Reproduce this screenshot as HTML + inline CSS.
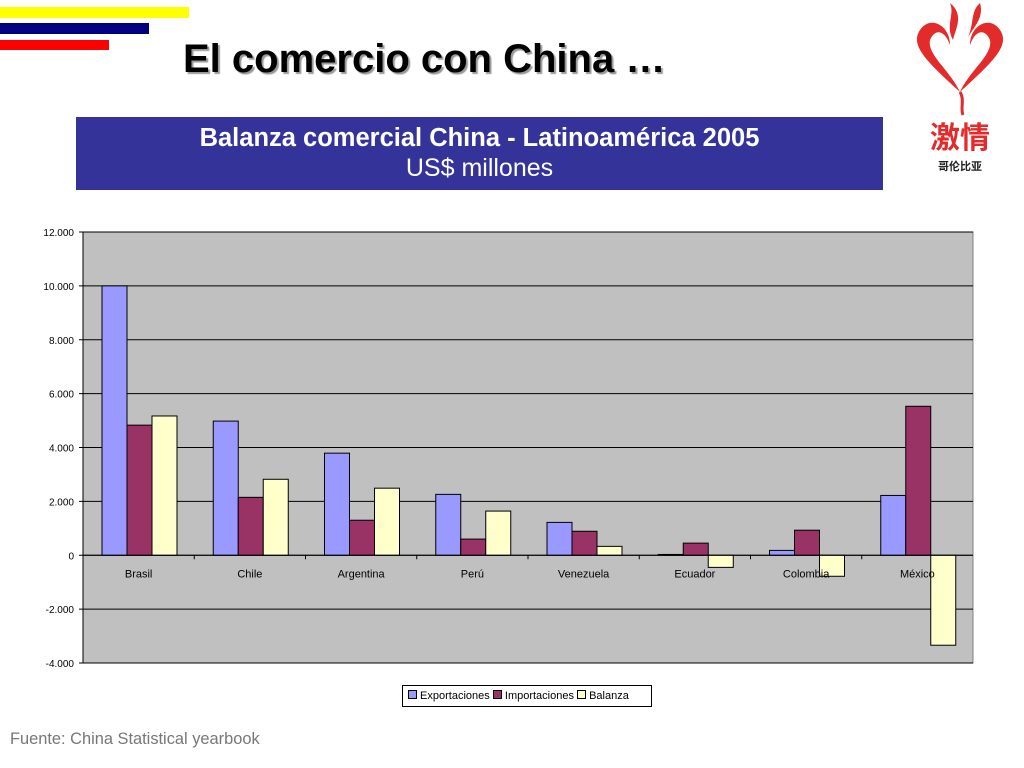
<!DOCTYPE html>
<html><head><meta charset="utf-8"><style>
body{margin:0;width:1024px;height:768px;background:#fff;position:relative;overflow:hidden;font-family:"Liberation Sans",sans-serif}
.s{position:absolute;left:0}
</style></head><body>
<div class="s" style="top:7px;width:189px;height:11px;background:#ffff00"></div>
<div class="s" style="top:23px;width:149px;height:11px;background:#000080"></div>
<div class="s" style="top:40px;width:109px;height:10px;background:#ff0000"></div>
<div style="position:absolute;left:183px;top:39px;font-size:40px;line-height:40px;font-weight:bold;color:#000;text-shadow:2px 2px 1px #999;white-space:nowrap">El comercio con China …</div>
<div style="position:absolute;left:76px;top:117px;width:807px;height:73px;background:#333399;color:#fff;text-align:center">
<div style="font-size:25.5px;font-weight:bold;margin-top:6px;line-height:30px;white-space:nowrap">Balanza comercial China - Latinoamérica 2005</div>
<div style="font-size:25px;line-height:28px;margin-top:1px">US$ millones</div></div>
<svg style="position:absolute;left:905px;top:0" width="110" height="180">
<path d="M55 92 C20 60 5 45 15 30 C25 15 45 25 45 45 C40 30 30 28 25 40 C22 55 45 70 55 92 Z" fill="#e32b2b"/>
<path d="M55 92 C90 60 105 45 95 30 C85 15 65 25 65 45 C70 30 80 28 85 40 C88 55 65 70 55 92 Z" fill="#e32b2b"/>
<path d="M48 40 C40 25 50 15 45 3 C60 15 50 30 48 40Z M62 40 C70 22 65 12 75 3 C80 20 65 30 62 40Z" fill="#e32b2b"/>
<path d="M55 92 C60 100 55 108 58 115" stroke="#e32b2b" stroke-width="3" fill="none"/>
<text x="55" y="148" font-size="30" text-anchor="middle" fill="#e32b2b" font-family="Noto Sans CJK SC,sans-serif" font-weight="bold">激情</text>
<text x="55" y="170" font-size="11" text-anchor="middle" fill="#222" font-family="Noto Sans CJK SC,sans-serif" font-weight="bold">哥伦比亚</text>
</svg>
<svg id="chart" style="position:absolute;left:0;top:0" width="1024" height="720"></svg>
<div style="position:absolute;left:402px;top:685px;width:248px;height:20px;border:1px solid #000;font-size:11px;line-height:20px;white-space:nowrap">
<span style="display:inline-block;width:7px;height:7px;background:#9999ff;border:1px solid #000;margin-left:5px"></span> Exportaciones
<span style="display:inline-block;width:7px;height:7px;background:#993366;border:1px solid #000"></span> Importaciones
<span style="display:inline-block;width:7px;height:7px;background:#ffffcc;border:1px solid #000"></span> Balanza</div>
<div style="position:absolute;left:10px;top:730px;font-size:16.4px;color:#777">Fuente: China Statistical yearbook</div>
<script>
const categories=["Brasil","Chile","Argentina","Perú","Venezuela","Ecuador","Colombia","México"];
const exportaciones=[10000,4980,3790,2260,1220,30,180,2220];
const importaciones=[4830,2150,1300,600,890,450,930,5530];
const balanza=[5170,2820,2490,1640,330,-450,-780,-3340];
const ticks=[12000,10000,8000,6000,4000,2000,0,-2000,-4000];
const tickLabels=["12.000","10.000","8.000","6.000","4.000","2.000","0","-2.000","-4.000"];
const svg=document.getElementById('chart');const NS='http://www.w3.org/2000/svg';
const X0=83,X1=973,Y0=232,Y1=663,vmax=12000,vmin=-4000;
const y=v=>Y0+(vmax-v)/(vmax-vmin)*(Y1-Y0);
const gw=(X1-X0)/categories.length;
function mk(t,a){const e=document.createElementNS(NS,t);for(const k in a)e.setAttribute(k,a[k]);svg.appendChild(e);return e;}
let r=mk('rect',{x:X0,y:Y0,width:X1-X0,height:Y1-Y0,fill:'#c0c0c0',stroke:'#808080'});


ticks.forEach((t,i)=>{
 let l=mk('line',{x1:X0-4,x2:X1,y1:y(t),y2:y(t),stroke:'#000','stroke-width':1});
 
 
 let tx=mk('text',{x:X0-9,y:y(t)+4,'font-size':10,'text-anchor':'end'});tx.textContent=tickLabels[i];
 
 
});
let ax=mk('line',{x1:X0,x2:X0,y1:Y0,y2:Y1,stroke:'#000'});


const series=[[exportaciones,'#9999ff','exportaciones'],[importaciones,'#993366','importaciones'],[balanza,'#ffffcc','balanza']];
categories.forEach((c,i)=>{
 const gx=X0+i*gw;
 series.forEach((s,j)=>{
  const v=s[0][i];const bx=gx+19+j*25;
  let b=mk('rect',{x:bx,y:Math.min(y(v),y(0)),width:25,height:Math.abs(y(v)-y(0)),fill:s[1],stroke:'#000','stroke-width':1});
  
  
 });
 let tk=mk('line',{x1:gx,x2:gx,y1:y(0),y2:y(0)+4,stroke:'#000'});
 
 
 let t=mk('text',{x:gx+gw/2,y:y(0)+22,'font-size':11,'text-anchor':'middle'});t.textContent=c;
 
 
});
let z=mk('line',{x1:X0,x2:X1,y1:y(0),y2:y(0),stroke:'#000'});


</script>
</body></html>
